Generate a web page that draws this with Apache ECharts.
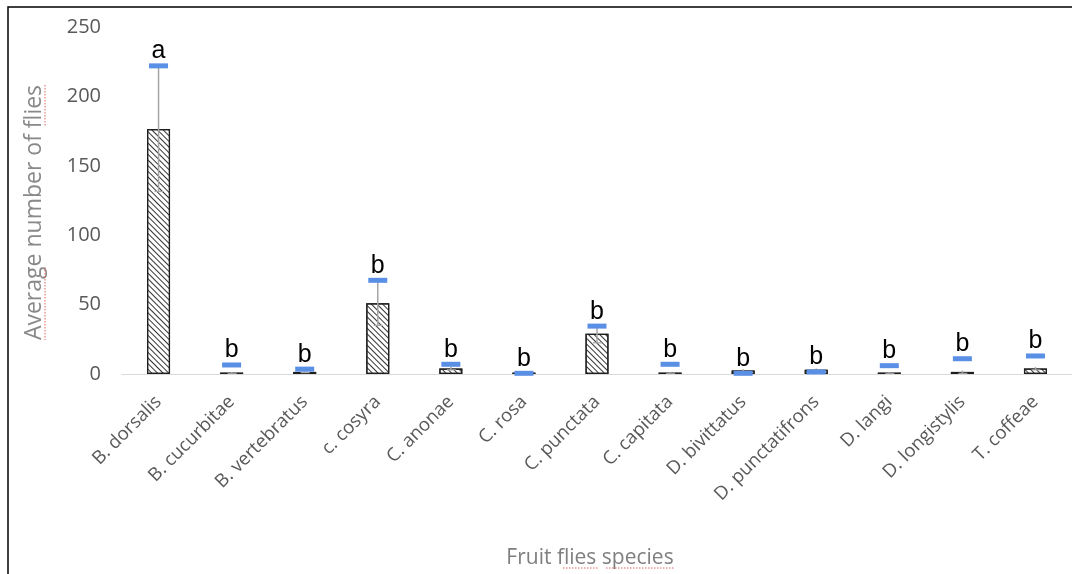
<!DOCTYPE html>
<html>
<head>
<meta charset="utf-8">
<script src="https://cdn.jsdelivr.net/npm/echarts@6/dist/echarts.min.js"></script>
<style>html,body{margin:0;padding:0;background:#fff}#c{width:1072px;height:574px}</style>
</head>
<body>
<div id="c"></div>
<script>
var categories = ['B. dorsalis','B. cucurbitae','B. vertebratus','c. cosyra','C. anonae','C. rosa','C. punctata','C. capitata','D. bivittatus','D. punctatifrons','D. langi','D. longistylis','T. coffeae'];
var means = [176.5, 1, 1.5, 51, 4, 1, 29, 1, 2.5, 3, 1, 1.5, 4];
var errors = [45, 0.5, 0.5, 16, 1, 0.3, 6.5, 0.5, 1, 1, 0.5, 1, 1];
var markValues = [222, 6.5, 3.5, 67.5, 7, 0.5, 34.5, 7, 0.5, 1.5, 6, 11, 13];
var letters = ['a','b','b','b','b','b','b','b','b','b','b','b','b'];
var yTicks = [0, 50, 100, 150, 200, 250];

var errData = categories.map(function (c, i) { return [i, means[i], errors[i], markValues[i]]; });

var chart = echarts.init(document.getElementById('c'), null, {renderer: 'canvas'});
chart.setOption({
  animation: false,
  backgroundColor: '#fff',
  grid: {left: 122, top: 27, width: 955, height: 347},
  xAxis: {
    type: 'category',
    data: categories,
    axisLine: {lineStyle: {color: '#d9d9d9', width: 1}},
    axisTick: {show: false},
    axisLabel: {rotate: 45, color: '#595959', fontFamily: 'Open Sans', fontSize: 18.5, margin: 25, interval: 0},
    name: 'Fruit flies species',
    nameLocation: 'middle',
    nameGap: 174,
    nameTextStyle: {color: '#7f7f7f', fontFamily: 'Open Sans', fontSize: 21, padding: [0, 14, 0, 0]}
  },
  yAxis: {
    type: 'value',
    min: yTicks[0], max: yTicks[yTicks.length - 1], interval: 50,
    axisLine: {show: false},
    axisTick: {show: false},
    splitLine: {show: false},
    axisLabel: {color: '#595959', fontFamily: 'Open Sans', fontSize: 20, margin: 21},
    name: 'Average number of flies',
    nameLocation: 'middle',
    nameGap: 76,
    nameTextStyle: {color: '#898989', fontFamily: 'Open Sans', fontSize: 23, padding: [0, 24, 0, 0]}
  },
  series: [
    {
      type: 'bar',
      data: means,
      barWidth: 23,
      itemStyle: {
        color: '#ffffff',
        borderColor: '#1f1f1f',
        borderWidth: 1.2,
        decal: {symbol: 'rect', color: '#333', dashArrayX: [1, 0], dashArrayY: [1, 3], rotation: Math.PI / 4, symbolSize: 1}
      }
    },
    {
      type: 'custom',
      data: errData,
      z: 10,
      renderItem: function (params, api) {
        var i = api.value(0), m = api.value(1), e = api.value(2), mk = api.value(3);
        var top = api.coord([i, m + e]);
        var bot = api.coord([i, Math.max(m - e, 0)]);
        var mp = api.coord([i, mk]);
        var x = top[0];
        return {type: 'group', children: [
          {type: 'line', shape: {x1: x, y1: top[1], x2: x, y2: bot[1]}, style: {stroke: '#a6a6a6', lineWidth: 1.5}},
          {type: 'line', shape: {x1: x - 4, y1: bot[1], x2: x + 5, y2: bot[1]}, style: {stroke: '#a6a6a6', lineWidth: 1.2}},
          {type: 'rect', shape: {x: x - 9.5, y: mp[1] - 2.5, width: 19, height: 5}, style: {fill: '#5a8fe6'}},
          {type: 'text', style: {text: letters[i], x: x, y: mp[1] - 2, align: 'center', verticalAlign: 'bottom', fill: '#000', font: '25px "Liberation Sans"'}}
        ]};
      }
    }
  ],
  graphic: [
    {type: 'rect', shape: {x: 8, y: 7, width: 1100, height: 600}, style: {fill: 'none', stroke: '#000', lineWidth: 1.5}, z: 100, silent: true},
    {type: 'line', shape: {x1: 45, y1: 267, x2: 45, y2: 340}, style: {stroke: '#e06060', lineWidth: 1, lineDash: [1.5, 1.5]}, z: 100},
    {type: 'line', shape: {x1: 45, y1: 85, x2: 45, y2: 127}, style: {stroke: '#e06060', lineWidth: 1, lineDash: [1.5, 1.5]}, z: 100},
    {type: 'line', shape: {x1: 563, y1: 568, x2: 598, y2: 568}, style: {stroke: '#e06060', lineWidth: 1, lineDash: [1.5, 1.5]}, z: 100},
    {type: 'line', shape: {x1: 606, y1: 568, x2: 675, y2: 568}, style: {stroke: '#e06060', lineWidth: 1, lineDash: [1.5, 1.5]}, z: 100}
  ]
});
</script>
</body>
</html>
